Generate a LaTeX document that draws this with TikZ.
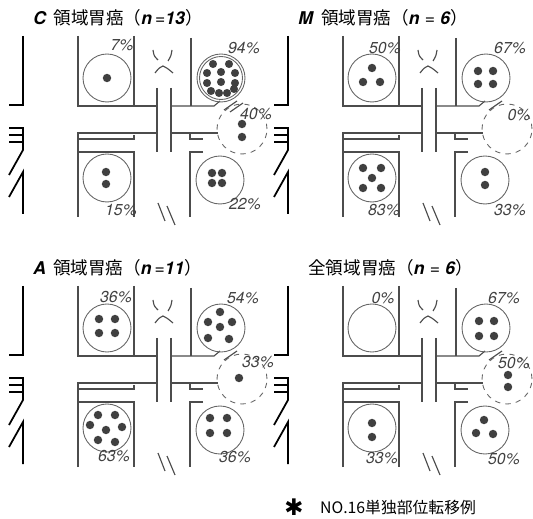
\documentclass[tikz,border=0pt]{standalone}
\usepackage{fontspec}
\setmainfont{TeX Gyre Heros}
\newfontfamily\jpfont{Noto Sans CJK JP}
\newfontfamily\symfont{DejaVu Sans}
\usetikzlibrary{positioning}

\begin{document}
\begin{tikzpicture}[
  x=0.02cm, y=-0.02cm,
  font=\fontsize{8}{9}\selectfont,
  frame/.style={draw=black!70, line width=0.65pt},
  wall/.style={draw=black, line width=1pt},
  lymph/.style={draw=black!60, circle, line width=0.5pt, minimum size=0.96cm, inner sep=0pt},
  dashlymph/.style={lymph, dashed, minimum size=1cm},
  dotfill/.style={fill=black!75},
  pct/.style={inner sep=0pt, text=black!75, font=\fontsize{9}{10}\selectfont\itshape},
  title/.style={anchor=west, inner sep=0pt, font=\fontsize{10}{12}\selectfont}
]
\useasboundingbox (0,0) rectangle (533,519);

% Panel frames: stomach wall, vessels and the five node stations
\foreach \px/\py/\p in {0/0/c, 265/0/m, 0/250/a, 265/250/all} {
  \begin{scope}[shift={(\px,\py)}]
    \draw[wall] (23,36) -- (23,105) -- (9,105);
    \draw[wall] (9,128) -- (23,128) -- (23,150) -- (9,175);
    \draw[wall] (9,135) -- (23,135);
    \draw[wall] (9,142) -- (23,142);
    \draw[wall] (9,197) -- (23,172) -- (23,214);
    \draw[frame] (78,36) -- (78,106) -- (157,106);
    \draw[frame] (134,36) -- (134,106);
    \draw[frame] (191,38) -- (191,106);
    \draw[frame] (171,106) -- (214,106) -- (220,101);
    \draw[frame] (157,88) -- (157,152);
    \draw[frame] (171,88) -- (171,152);
    \draw[frame] (78,217) -- (78,133) -- (157,133);
    \draw[frame] (78,139) -- (134,139) -- (134,135);
    \draw[frame] (78,152) -- (134,152) -- (134,217);
    \draw[frame] (171,133) -- (218,133);
    \draw[frame] (190,133) -- (190,139) -- (203,139);
    \draw[frame] (203,152) -- (190,152) -- (190,217);
    % cut marks
    \draw[frame] (153,50) .. controls (154,56) .. (158,60);
    \draw[frame] (172,50) .. controls (171,56) .. (168,61);
    \draw[frame] (155,73) .. controls (159,68) .. (163,66) .. controls (167,68) .. (173,73);
    \draw[frame] (158,203) -- (165,221);
    \draw[frame] (167,206) -- (175,225);
    \draw[frame] (224,110) -- (237,101);
    % stations
    \node[lymph] (\p-ul) at (107,78) {};
    \node[lymph] (\p-ur) at (221,78) {};
    \node[dashlymph] (\p-mid) at (242,129) {};
    \node[lymph] (\p-ll) at (107,178) {};
    \node[lymph] (\p-lr) at (220,180) {};
  \end{scope}
}
\node[lymph, minimum size=0.86cm] (c-ur-in) at (c-ur) {};
\draw[frame] (230,112) -- (243,103);

% Titles
\node[title] (c-title) at (33,18) {\textbf{\textit{C}}\hspace{4pt}{\jpfont 領域胃癌（}\textbf{\textit{n}}\,=\textbf{\textit{13}}{\jpfont ）}};
\node[title] (m-title) at (298,18) {\textbf{\textit{M}}\hspace{4pt}{\jpfont 領域胃癌（}\textbf{\textit{n}}\hspace{3pt}=\hspace{3pt}\textbf{\textit{6}}{\jpfont ）}};
\node[title] (a-title) at (33,268) {\textbf{\textit{A}}\hspace{4pt}{\jpfont 領域胃癌（}\textbf{\textit{n}}\,=\textbf{\textit{11}}{\jpfont ）}};
\node[title] (all-title) at (308,268) {{\jpfont 全領域胃癌（}\textbf{\textit{n}}\hspace{3pt}=\hspace{3pt}\textbf{\textit{6}}{\jpfont ）}};

% Percentages
\node[pct] (c-ul-pct) at (122,45) {7\%};
\node[pct] (c-ur-pct) at (244,48) {94\%};
\node[pct] (c-mid-pct) at (256,114) {40\%};
\node[pct] (c-ll-pct) at (121,210) {15\%};
\node[pct] (c-lr-pct) at (245,204) {22\%};
\node[pct] (m-ul-pct) at (385,48) {50\%};
\node[pct] (m-ur-pct) at (510,48) {67\%};
\node[pct] (m-mid-pct) at (519,115) {0\%};
\node[pct] (m-ll-pct) at (384,210) {83\%};
\node[pct] (m-lr-pct) at (510,210) {33\%};
\node[pct] (a-ul-pct) at (116,297) {36\%};
\node[pct] (a-ur-pct) at (243,298) {54\%};
\node[pct] (a-mid-pct) at (258,362) {33\%};
\node[pct] (a-ll-pct) at (114,456) {63\%};
\node[pct] (a-lr-pct) at (235,457) {36\%};
\node[pct] (all-ul-pct) at (383,298) {0\%};
\node[pct] (all-ur-pct) at (504,298) {67\%};
\node[pct] (all-mid-pct) at (514,363) {50\%};
\node[pct] (all-ll-pct) at (382,458) {33\%};
\node[pct] (all-lr-pct) at (504,459) {50\%};

% Positive cases
\fill[dotfill] (c-ul) circle[radius=2.4pt];
\foreach \dx/\dy in {-8/-14, 8/-14, -14/-5, 0/-6, 14/-5, -14/5, 0/4, 14/5, -10/13, -2/15, 6/15, 13/11}
  \fill[dotfill] (c-ur) ++(\dx,\dy) circle[radius=2.3pt];
\foreach \dx/\dy in {0/-5, 0/8}
  \fill[dotfill] (c-mid) ++(\dx,\dy) circle[radius=2.4pt];
\foreach \dx/\dy in {-1/-6, -1/6}
  \fill[dotfill] (c-ll) ++(\dx,\dy) circle[radius=2.4pt];
\foreach \dx/\dy in {-8/-7, 2/-7, -8/3, 2/3}
  \fill[dotfill] (c-lr) ++(\dx,\dy) circle[radius=2.4pt];

\foreach \dx/\dy in {0/-10, -9/4, 8/4}
  \fill[dotfill] (m-ul) ++(\dx,\dy) circle[radius=2.4pt];
\foreach \dx/\dy in {-8/-7, 7/-7, -8/6, 7/6}
  \fill[dotfill] (m-ur) ++(\dx,\dy) circle[radius=2.4pt];
\foreach \dx/\dy in {-9/-10, 9/-10, 0/0, -9/10, 9/10}
  \fill[dotfill] (m-ll) ++(\dx,\dy) circle[radius=2.4pt];
\foreach \dx/\dy in {0/-8, 0/5}
  \fill[dotfill] (m-lr) ++(\dx,\dy) circle[radius=2.4pt];

\foreach \dx/\dy in {-8/-9, 8/-9, -8/5, 8/5}
  \fill[dotfill] (a-ul) ++(\dx,\dy) circle[radius=2.4pt];
\foreach \dx/\dy in {-1/-16, -13/-6, -1/-1, 11/-6, -13/10, 8/11}
  \fill[dotfill] (a-ur) ++(\dx,\dy) circle[radius=2.4pt];
\fill[dotfill] (a-mid) ++(-3,-1) circle[radius=2.4pt];
\foreach \dx/\dy in {-9/-13, 8/-13, -17/-3, -1/2, 15/-1, -9/12, 8/14}
  \fill[dotfill] (a-ll) ++(\dx,\dy) circle[radius=2.4pt];
\foreach \dx/\dy in {-10/-12, 7/-12, -10/3, 7/3}
  \fill[dotfill] (a-lr) ++(\dx,\dy) circle[radius=2.4pt];

\foreach \dx/\dy in {-7/-7, 8/-7, -7/8, 8/8}
  \fill[dotfill] (all-ur) ++(\dx,\dy) circle[radius=2.4pt];
\foreach \dx/\dy in {1/-4, 1/8}
  \fill[dotfill] (all-mid) ++(\dx,\dy) circle[radius=2.4pt];
\foreach \dx/\dy in {0/-5, 0/9}
  \fill[dotfill] (all-ll) ++(\dx,\dy) circle[radius=2.4pt];
\foreach \dx/\dy in {-1/-10, -9/3, 8/4}
  \fill[dotfill] (all-lr) ++(\dx,\dy) circle[radius=2.4pt];

% Footnote
\node[inner sep=0pt, font=\symfont\fontsize{13}{14}\selectfont] (star) at (294,507) {✱};
\node[inner sep=0pt, right=9pt of star, font=\jpfont\fontsize{9}{10}\selectfont] (note) {NO.16単独部位転移例};
\end{tikzpicture}
\end{document}
